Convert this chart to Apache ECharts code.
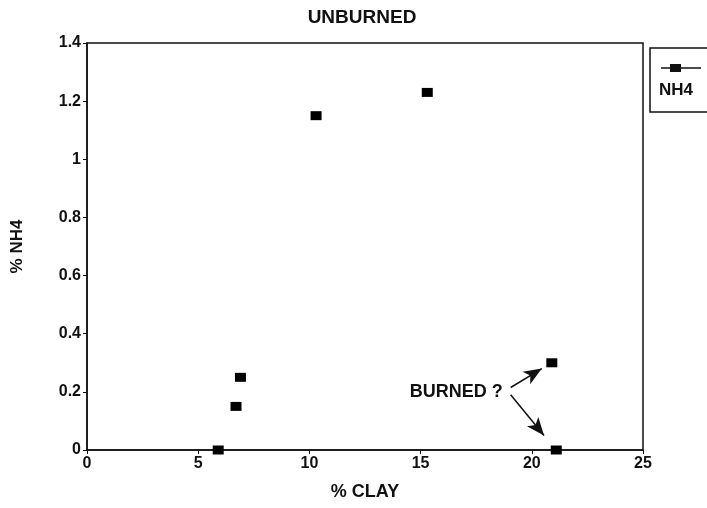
<!DOCTYPE html>
<html>
<head>
<meta charset="utf-8">
<script src="https://cdn.jsdelivr.net/npm/echarts@6/dist/echarts.min.js"></script>
<style>
  html, body { margin: 0; padding: 0; background: #fff; }
  #chart { width: 707px; height: 508px; }
</style>
</head>
<body>
<div id="chart"></div>
<script>
// values
const clay = [5.9, 6.7, 6.9, 10.3, 15.3, 20.9, 21.1];
const nh4 = [0, 0.15, 0.25, 1.15, 1.23, 0.3, 0];
const xTicks = [0, 5, 10, 15, 20, 25];
const yTicks = [0, 0.2, 0.4, 0.6, 0.8, 1, 1.2, 1.4];

const font = 'Liberation Sans, Arial, sans-serif';
const points = clay.map((c, i) => [c, nh4[i]]);

const chart = echarts.init(document.getElementById('chart'));
chart.setOption({
    backgroundColor: '#fff',
    animation: false,
    title: {
        text: 'UNBURNED',
        left: 357,
        top: 3,
        textAlign: 'center',
        textStyle: { fontFamily: font, fontSize: 19, fontWeight: 'bold', color: '#111' }
    },
    grid: {
        left: 87, right: 64, top: 43, bottom: 58,
        containLabel: false,
        outerBoundsMode: 'none',
        show: true,
        borderColor: '#111',
        borderWidth: 1.5
    },
    legend: {
        data: [{
            name: 'NH4',
            icon: 'rect',
            itemStyle: { color: '#111', opacity: 1 }
        }],
        left: 650,
        top: 48,
        formatter: () => '',
        itemWidth: 11,
        itemHeight: 8,
        padding: [16, 36, 40, 20],
        borderColor: '#111',
        borderWidth: 1.5,
        borderRadius: 0
    },
    graphic: [
        { type: 'line', shape: { x1: 661, y1: 68, x2: 701, y2: 68 }, style: { stroke: '#111', lineWidth: 1.5 } },
        { type: 'text', left: 659, top: 82, style: { text: 'NH4', font: 'bold 17px ' + font, fill: '#111' } }
    ],
    xAxis: {
        type: 'value',
        min: xTicks[0],
        max: xTicks[xTicks.length - 1],
        interval: 5,
        name: '% CLAY',
        nameLocation: 'middle',
        nameGap: 33,
        nameTextStyle: { fontFamily: font, fontSize: 18, fontWeight: 'bold', color: '#111' },
        axisLine: { lineStyle: { color: '#111', width: 1.5 } },
        axisTick: { show: true, length: 4, lineStyle: { color: '#111' } },
        axisLabel: { fontFamily: font, fontSize: 16, fontWeight: 'bold', color: '#111', margin: 6 },
        splitLine: { show: false }
    },
    yAxis: {
        type: 'value',
        min: yTicks[0],
        max: yTicks[yTicks.length - 1],
        interval: 0.2,
        name: '% NH4',
        nameLocation: 'middle',
        nameGap: 61,
        nameTextStyle: { fontFamily: font, fontSize: 17, fontWeight: 'bold', color: '#111' },
        axisLine: { lineStyle: { color: '#111', width: 1.5 } },
        axisTick: { show: true, length: 4, lineStyle: { color: '#111' } },
        axisLabel: {
            fontFamily: font, fontSize: 16, fontWeight: 'bold', color: '#111', margin: 6,
            formatter: v => String(Math.round(v * 10) / 10)
        },
        splitLine: { show: false }
    },
    series: [{
        name: 'NH4',
        type: 'scatter',
        data: points,
        symbol: 'rect',
        symbolSize: [11, 9],
        itemStyle: { color: '#000', opacity: 1 },
        markPoint: {
            symbol: 'circle',
            symbolSize: 1,
            silent: true,
            itemStyle: { color: 'rgba(0,0,0,0)' },
            label: {
                show: true,
                position: 'inside',
                formatter: 'BURNED ?',
                fontFamily: font, fontSize: 18, fontWeight: 'bold', color: '#111'
            },
            data: [{ coord: [16.6, 0.2] }]
        },
        markLine: {
            silent: true,
            symbol: ['none', 'arrow'],
            symbolSize: [11, 18],
            label: { show: false },
            lineStyle: { color: '#111', width: 1.5, type: 'solid' },
            data: [
                [{ coord: [19.05, 0.215] }, { coord: [20.45, 0.28] }],
                [{ coord: [19.05, 0.19] }, { coord: [20.55, 0.05] }]
            ]
        }
    }]
});
</script>
</body>
</html>
